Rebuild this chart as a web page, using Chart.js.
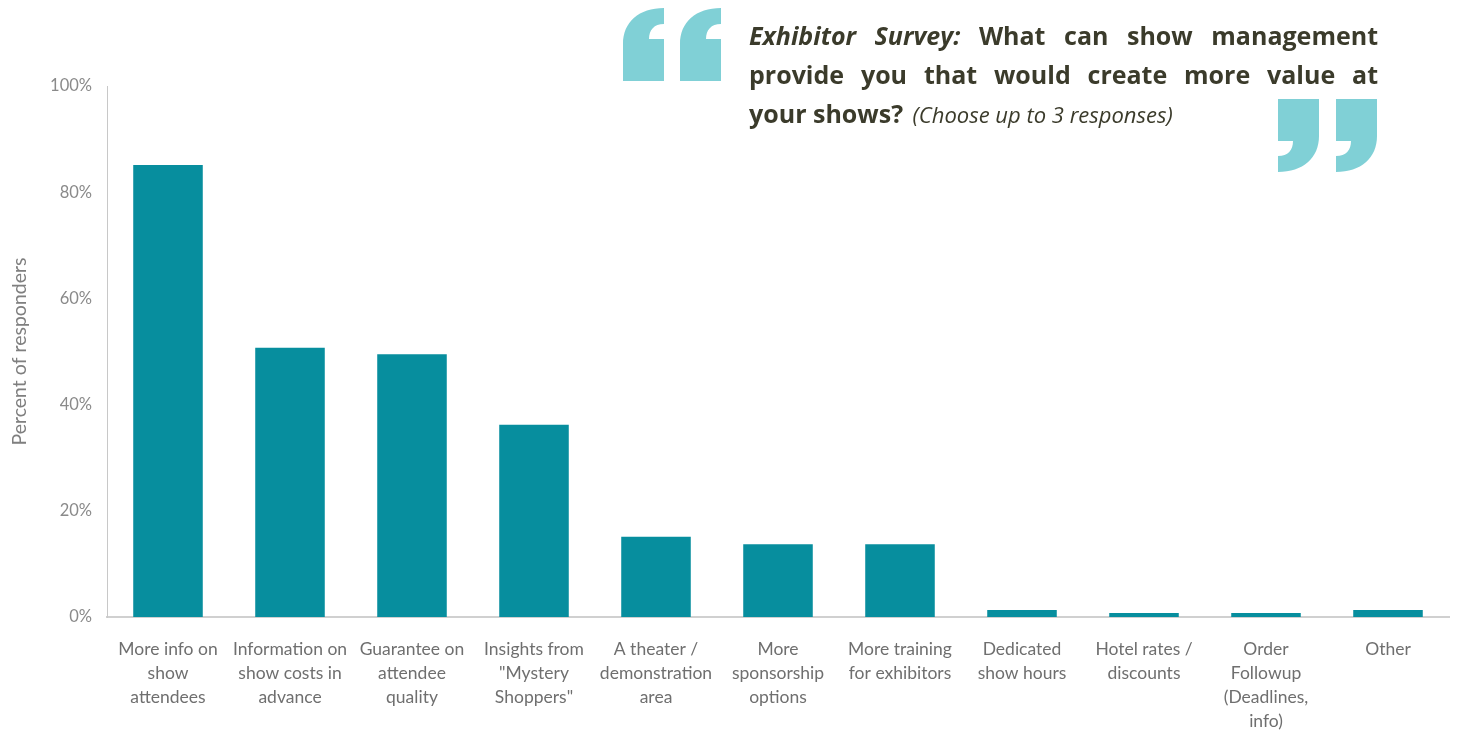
<!DOCTYPE html>
<html>
<head>
<meta charset="utf-8">
<script src="https://cdn.jsdelivr.net/npm/chart.js@4/dist/chart.umd.min.js"></script>
<style>
  html, body { margin: 0; padding: 0; background: #ffffff; }
  #wrap { position: relative; width: 1460px; height: 731px; overflow: hidden; }
  canvas { position: absolute; left: 0; top: 0; }
  svg.q { position: absolute; }
  #title { position: absolute; left: 749px; top: 16px; width: 629px; font-family: "Open Sans", "Lato", sans-serif; font-weight: bold; font-size: 25px; line-height: 39px; color: #3b3b2b; }
  #title div { white-space: nowrap; }
  #title div.j { text-align: justify; text-align-last: justify; white-space: normal; }
  #title i.small { font-weight: normal; font-size: 22px; margin-left: 3px; }
</style>
</head>
<body>
<div id="wrap">
  <canvas id="c" width="1460" height="731"></canvas>
  <svg class="q" style="left:623px; top:8px;" width="100" height="74" viewBox="0 0 100 74">
    <path fill="#80d0d6" d="M0,73 L0,36 C0,14 16,0 41,0 L41,16 C31,16 26,22 26,31 L41,31 L41,73 Z"/>
    <path fill="#80d0d6" transform="translate(57,0)" d="M0,73 L0,36 C0,14 16,0 41,0 L41,16 C31,16 26,22 26,31 L41,31 L41,73 Z"/>
  </svg>
  <svg class="q" style="left:1278px; top:99px;" width="100" height="74" viewBox="0 0 100 74">
    <path fill="#80d0d6" transform="rotate(180 20.5 36.5)" d="M0,73 L0,36 C0,14 16,0 41,0 L41,16 C31,16 26,22 26,31 L41,31 L41,73 Z"/>
    <path fill="#80d0d6" transform="translate(58,0) rotate(180 20.5 36.5)" d="M0,73 L0,36 C0,14 16,0 41,0 L41,16 C31,16 26,22 26,31 L41,31 L41,73 Z"/>
  </svg>
  <div id="title">
    <div class="j"><i>Exhibitor Survey:</i> What can show management</div>
    <div class="j">provide you that would create more value at</div>
    <div>your shows? <i class="small">(Choose up to 3 responses)</i></div>
  </div>
</div>
<script>
const categories = [
  ["More info on", "show", "attendees"],
  ["Information on", "show costs in", "advance"],
  ["Guarantee on", "attendee", "quality"],
  ["Insights from", "\"Mystery", "Shoppers\""],
  ["A theater /", "demonstration", "area"],
  ["More", "sponsorship", "options"],
  ["More training", "for exhibitors"],
  ["Dedicated", "show hours"],
  ["Hotel rates /", "discounts"],
  ["Order", "Followup", "(Deadlines,", "info)"],
  ["Other"]
];
const percentValues = [85.1, 50.7, 49.5, 36.2, 15.1, 13.7, 13.7, 1.3, 0.75, 0.75, 1.3];
const yTickValues = [0, 20, 40, 60, 80, 100];
const yAxisTitle = "Percent of responders";

const ctx = document.getElementById('c').getContext('2d');
new Chart(ctx, {
  type: 'bar',
  data: {
    labels: categories,
    datasets: [{
      data: percentValues,
      backgroundColor: '#078e9e',
      borderWidth: 0,
      categoryPercentage: 1.0,
      barPercentage: 0.57
    }]
  },
  options: {
    responsive: false,
    animation: false,
    layout: { padding: { top: 86, right: 11, left: 8, bottom: 0 } },
    plugins: { legend: { display: false }, tooltip: { enabled: false }, title: { display: false } },
    scales: {
      x: {
        grid: { display: false, drawTicks: false },
        border: { display: true, color: '#d0d0d0', width: 2 },
        ticks: {
          color: '#6f6f6f',
          font: { family: 'Lato, "Open Sans", sans-serif', size: 17.5, lineHeight: 1.37 },
          padding: 20,
          maxRotation: 0,
          autoSkip: false
        },
        afterFit: (s) => { s.height = 114; }
      },
      y: {
        min: 0, max: 100,
        afterBuildTicks: (s) => { s.ticks = yTickValues.map(v => ({ value: v })); },
        grid: { display: false, drawTicks: false },
        border: { display: true, color: '#c8c8c8', width: 1 },
        ticks: {
          color: '#8a8a8a',
          font: { family: 'Lato, "Open Sans", sans-serif', size: 16.5 },
          padding: 15,
          callback: (v) => v + '%'
        },
        title: {
          display: true,
          text: yAxisTitle,
          color: '#7f7f7f',
          font: { family: 'Lato, "Open Sans", sans-serif', size: 19.5 },
          padding: { top: 0, bottom: 0 }
        },
        afterFit: (s) => { s.width = 99; }
      }
    }
  }
});
</script>
</body>
</html>
